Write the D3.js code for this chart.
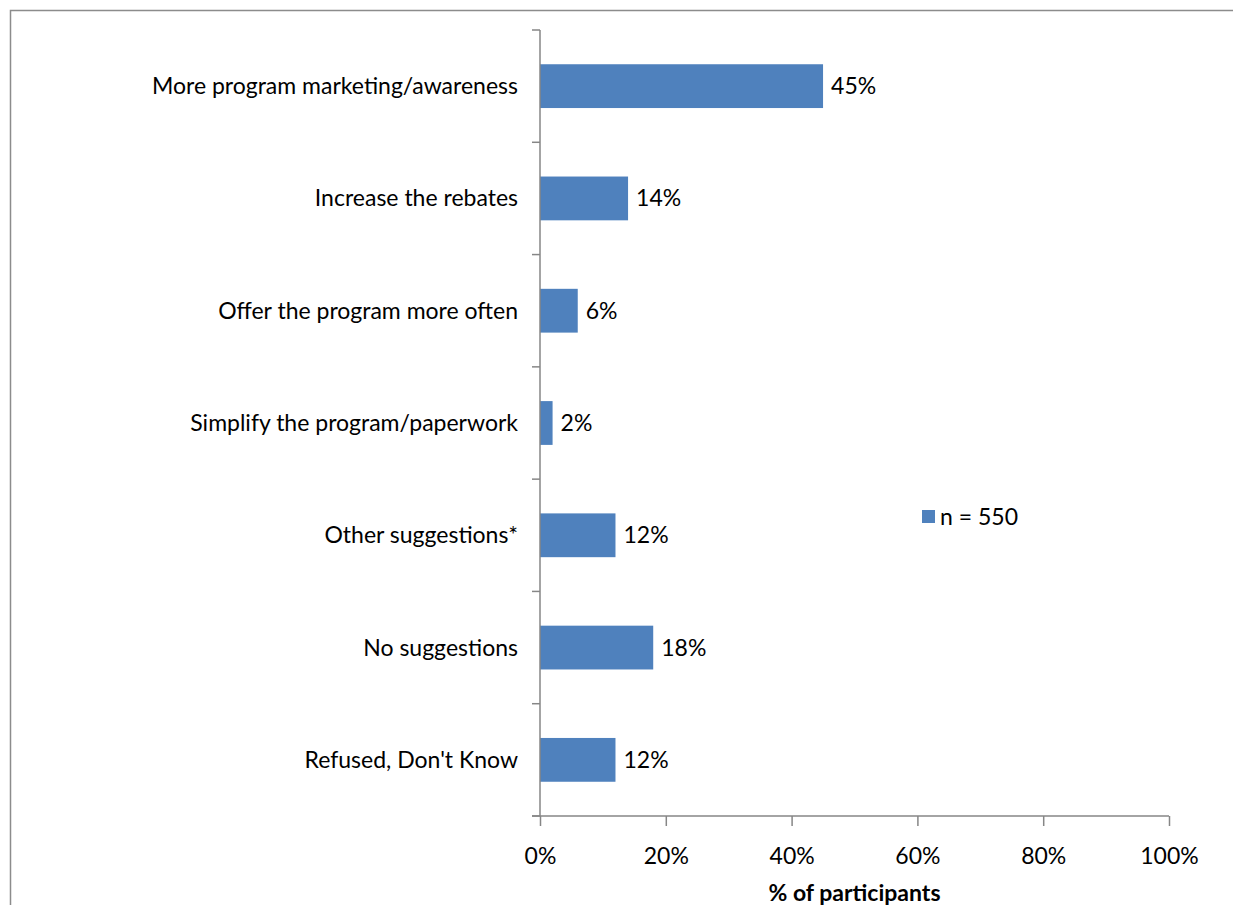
<!DOCTYPE html>
<html>
<head>
<meta charset="utf-8">
<script src="https://cdn.jsdelivr.net/npm/d3@7"></script>
<style>
  body { margin: 0; background: #fff; }
  text { font-family: Lato, "Open Sans", sans-serif; fill: #000; }
</style>
</head>
<body>
<svg id="chart" width="1233" height="905"></svg>
<script>
// Suggestions for improving the program, share of participants
const categories = [
  "More program marketing/awareness",
  "Increase the rebates",
  "Offer the program more often",
  "Simplify the program/paperwork",
  "Other suggestions*",
  "No suggestions",
  "Refused, Don't Know"
];
const values = [45, 14, 6, 2, 12, 18, 12];
const xTicks = [0, 20, 40, 60, 80, 100];
const legendLabel = "n = 550";
const xTitle = "% of participants";

const svg = d3.select("#chart");
const barColor = "#4F81BD";
const axisColor = "#868686";
const fontSize = 23;

// outer chart frame
svg.append("rect")
  .attr("x", 10.5).attr("y", 10.5)
  .attr("width", 1300).attr("height", 1000)
  .attr("fill", "none").attr("stroke", "#8c8c8c").attr("stroke-width", 1.5);

const plotLeft = 540, plotRight = 1169, plotTop = 30, plotBottom = 816;

const x = d3.scaleLinear().domain([0, 100]).range([plotLeft, plotRight]);
const y = d3.scaleBand().domain(categories).range([plotTop, plotBottom]).paddingInner(0.61).paddingOuter(0.305);

// bars
svg.append("g").selectAll("rect")
  .data(values)
  .join("rect")
  .attr("x", x(0))
  .attr("y", (d, i) => y(categories[i]))
  .attr("width", d => x(d) - x(0))
  .attr("height", y.bandwidth())
  .attr("fill", barColor);

// value labels
svg.append("g").selectAll("text")
  .data(values)
  .join("text")
  .attr("x", d => x(d) + 8)
  .attr("y", (d, i) => y(categories[i]) + y.bandwidth() / 2)
  .attr("dy", "0.35em")
  .attr("font-size", fontSize)
  .text(d => d + "%");

// category axis: ticks between categories, extending to the left
const step = (plotBottom - plotTop) / categories.length;
const yAxisG = svg.append("g");
yAxisG.append("line")
  .attr("x1", plotLeft).attr("x2", plotLeft).attr("y1", plotTop).attr("y2", plotBottom)
  .attr("stroke", axisColor).attr("stroke-width", 1.5);
yAxisG.selectAll("line.tick")
  .data(d3.range(categories.length + 1))
  .join("line").attr("class", "tick")
  .attr("x1", plotLeft - 8).attr("x2", plotLeft)
  .attr("y1", i => plotTop + i * step).attr("y2", i => plotTop + i * step)
  .attr("stroke", axisColor).attr("stroke-width", 1.5);
yAxisG.selectAll("text")
  .data(categories)
  .join("text")
  .attr("x", plotLeft - 22)
  .attr("y", d => y(d) + y.bandwidth() / 2)
  .attr("dy", "0.35em")
  .attr("text-anchor", "end")
  .attr("font-size", fontSize)
  .text(d => d);

// value axis
const xAxis = d3.axisBottom(x)
  .tickValues(xTicks)
  .tickSize(10)
  .tickPadding(22)
  .tickFormat(d => d + "%");
const xAxisG = svg.append("g")
  .attr("transform", `translate(0,${plotBottom})`)
  .call(xAxis);
xAxisG.select(".domain").remove();
xAxisG.append("line")
  .attr("x1", plotLeft - 8).attr("x2", plotRight).attr("y1", 0).attr("y2", 0)
  .attr("stroke", axisColor).attr("stroke-width", 1.5);
xAxisG.selectAll(".tick line").attr("stroke", axisColor).attr("stroke-width", 1.5);
xAxisG.selectAll(".tick text")
  .attr("font-size", fontSize)
  .attr("font-family", "Lato, 'Open Sans', sans-serif")
  .attr("fill", "#000");

// axis title
svg.append("text")
  .attr("x", (plotLeft + plotRight) / 2)
  .attr("y", 901)
  .attr("text-anchor", "middle")
  .attr("font-size", fontSize)
  .attr("font-weight", "bold")
  .text(xTitle);

// legend
const lg = svg.append("g").attr("transform", "translate(922,510)");
lg.append("rect").attr("width", 13).attr("height", 13).attr("fill", barColor);
lg.append("text").attr("x", 18).attr("y", 6.5).attr("dy", "0.35em")
  .attr("font-size", fontSize).text(legendLabel);
</script>
</body>
</html>
